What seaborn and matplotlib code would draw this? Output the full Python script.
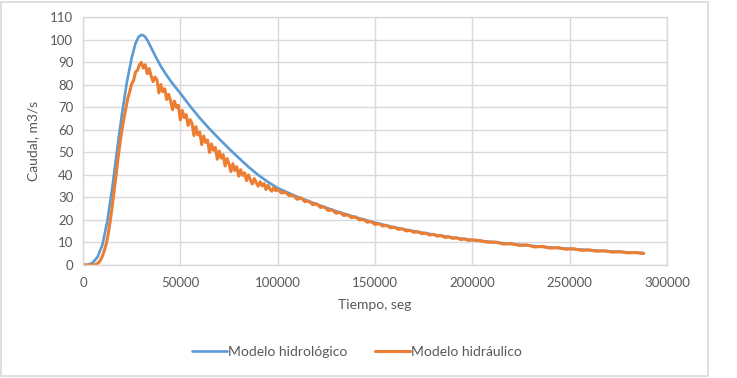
import pandas as pd
import matplotlib.pyplot as plt
import seaborn as sns
from matplotlib.patches import Rectangle

# Datos
t_hidrologico = [0, 2500, 5000, 7500, 10000, 12500, 15000, 17500, 20000, 22500,
                 25000, 27000, 28500, 30000, 31500, 32500, 33500, 35000, 37500, 40000,
                 42500, 45000, 47500, 50000, 55000, 60000, 65000, 70000, 75000, 80000,
                 85000, 90000, 95000, 100000, 110000, 120000, 130000, 140000, 150000,
                 160000, 170000, 180000, 190000, 200000, 220000, 240000, 260000,
                 280000, 288000]
q_hidrologico = [0, 0.1, 1.0, 3.6, 9, 19.5, 34, 51, 67, 81,
                 92, 98.5, 101.3, 102.3, 101.8, 100.7, 99.2, 96.6, 92.3, 88.3,
                 84.9, 81.8, 79, 76.3, 70.6, 65.3, 60.5, 56, 51.7, 47.6,
                 43.6, 40, 36.9, 34.2, 30.3, 27, 23.9, 21.2, 18.8,
                 16.7, 15, 13.5, 12.2, 11.1, 9.3, 7.8, 6.6,
                 5.6, 5.3]

t_hidraulico = ([0, 2500, 5000, 6500, 8000, 9000, 10000, 11000, 12000, 13000,
                 14000, 15000, 16000, 17000, 18000, 19000, 20000, 21000, 22000,
                 23000, 24000, 25000, 26000, 27000, 28000, 29000]
                + list(range(30000, 100001, 1000))
                + list(range(102000, 200001, 2000))
                + list(range(204000, 288001, 4000)))
q_hidraulico = [0, 0, 0, 0.2, 1, 2.2, 4, 6.5, 9.5, 14,
                19.5, 26, 33, 40, 47.5, 54, 60, 65, 69.5,
                74, 77, 80.5, 82, 85.8, 86.5, 89,
                # 30000 - 100000
                90.0, 87.5, 89.0, 85.0, 87.3, 84.0, 81.5, 83.5, 82.3, 76.5,
                80.2, 77.0, 78.3, 73.5, 75.8, 73.0, 69.0, 72.8, 70.0, 71.0,
                64.5, 68.7, 65.5, 66.8, 62.0, 64.6, 63.0, 57.5, 61.5, 57.8,
                59.0, 53.5, 57.3, 54.5, 55.5, 50.0, 53.8, 51.0, 52.2, 47.0,
                50.6, 47.5, 49.0, 44.0, 47.3, 45.0, 41.5, 45.0, 42.0, 43.7,
                39.5, 42.3, 39.8, 41.0, 37.5, 40.0, 37.8, 36.0, 38.4, 36.6,
                35.0, 37.0, 35.2, 36.2, 33.5, 35.4, 33.8, 32.8, 34.4, 33.0,
                33.6,
                # 102000 - 200000
                32.0, 32.3, 30.8, 31.0, 29.2, 29.8, 28.2, 28.4, 26.8, 27.2,
                25.6, 25.8, 24.2, 24.5, 23.0, 23.4, 22.0, 22.3, 21.0, 21.4,
                20.0, 20.3, 19.0, 19.3, 18.0, 18.4, 17.3, 17.6, 16.5, 16.8,
                15.8, 16.1, 15.1, 15.4, 14.5, 14.8, 13.9, 14.2, 13.3, 13.6,
                12.8, 13.1, 12.2, 12.5, 11.8, 12.1, 11.3, 11.6, 10.9, 11.2,
                # 204000 - 288000
                10.8, 10.1, 10.2, 9.3, 9.5, 8.7, 8.9, 8.0, 8.2, 7.5,
                7.7, 7.0, 7.2, 6.5, 6.7, 6.1, 6.3, 5.7, 5.9, 5.4,
                5.5, 5.1]

x_ticks = [0, 50000, 100000, 150000, 200000, 250000, 300000]
y_ticks = list(range(0, 111, 10))

df_hidro = pd.DataFrame({"t": t_hidrologico, "q": q_hidrologico})
df_hidra = pd.DataFrame({"t": t_hidraulico, "q": q_hidraulico})

sns.set_theme(style="whitegrid")
plt.rcParams["font.family"] = ["Lato", "DejaVu Sans"]

gris_texto = "#595959"
gris_linea = "#d9d9d9"

fig = plt.figure(figsize=(7.37, 3.78), dpi=100)
ax = fig.add_axes([0.1126, 0.299, 0.7924, 0.6548])

sns.lineplot(data=df_hidro, x="t", y="q", ax=ax, color="#5b9bd5", linewidth=1.9,
             sort=False, estimator=None, label="Modelo hidrológico")
sns.lineplot(data=df_hidra, x="t", y="q", ax=ax, color="#ed7d31", linewidth=2.2,
             sort=False, estimator=None, label="Modelo hidráulico")

ax.set_xlim(0, 300000)
ax.set_ylim(0, 110)
ax.set_xticks(x_ticks)
ax.set_yticks(y_ticks)
ax.set_xticklabels([str(v) for v in x_ticks])
ax.grid(True, color=gris_linea, linewidth=1)
for s in ax.spines.values():
    s.set_color(gris_linea)
    s.set_linewidth(1)
ax.tick_params(axis="both", length=0, labelsize=9.5, labelcolor=gris_texto)
ax.tick_params(axis="y", pad=7)
ax.tick_params(axis="x", pad=9)
ax.set_xlabel("Tiempo, seg", fontsize=10, color=gris_texto, labelpad=7)
ax.set_ylabel("Caudal, m3/s", fontsize=10, color=gris_texto, labelpad=8)

handles, labels = ax.get_legend_handles_labels()
ax.get_legend().remove()
fig.legend(handles, labels, loc="center", bbox_to_anchor=(357 / 737, 1 - 352 / 378),
           ncol=2, frameon=False, fontsize=10, labelcolor=gris_texto,
           handlelength=2.5, handletextpad=0.1, columnspacing=2.0)

# borde del área del gráfico
fig.patches.append(Rectangle((0.002, 0.006), 0.958, 0.99, transform=fig.transFigure,
                             fill=False, edgecolor=gris_linea, linewidth=1.2))

fig.savefig("out.png", dpi=100)
